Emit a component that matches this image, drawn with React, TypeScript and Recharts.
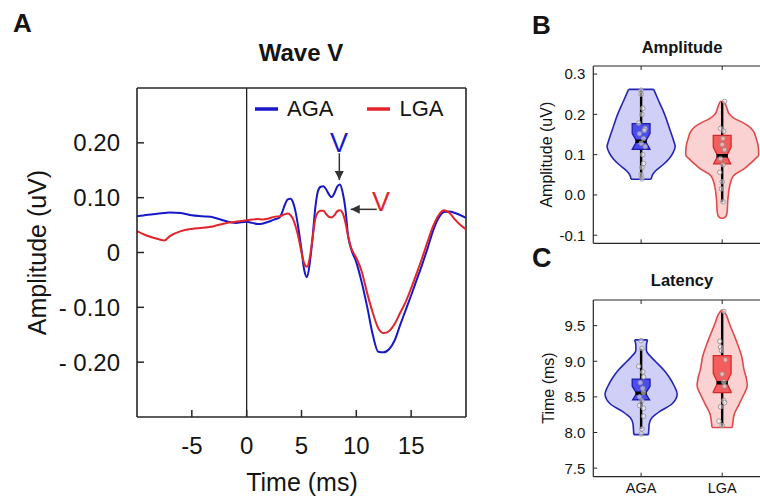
import React from 'react';
import {
  LineChart,
  Line,
  XAxis,
  YAxis,
  ReferenceLine,
  ReferenceDot,
  Legend,
  ComposedChart,
  Area,
} from 'recharts';

const FONT = '"Liberation Sans", Arial, Helvetica, sans-serif';
const INK = '#141414';
const AXIS = '#262626';
const BLUE = '#1818c8';
const RED = '#e3242b';

// ---------------- Panel A: Wave V ----------------
const TIME_MS = [
  -10, -9, -8, -7.5, -7, -6, -5, -4, -3, -2, -1,
  0, 0.5, 1, 1.5, 2, 2.5, 3,
  3.25, 3.5, 3.75, 4, 4.25, 4.5, 4.75, 5, 5.25, 5.5, 5.75, 6, 6.25, 6.5, 6.75, 7, 7.25, 7.5, 7.75, 8, 8.25, 8.5, 8.75, 9, 9.25, 9.5,
  10, 10.5, 11, 11.5, 12, 12.5, 13, 13.5, 14, 14.5, 15, 15.5, 16, 16.5, 17, 17.5, 18, 18.5, 19, 19.5, 20,
];
const AGA_WAVE = [
  0.066, 0.069, 0.071, 0.072, 0.073, 0.072, 0.068, 0.066, 0.064, 0.058, 0.054,
  0.056, 0.054, 0.052, 0.053, 0.056, 0.06, 0.064,
  0.074, 0.088, 0.097, 0.098, 0.09, 0.07, 0.04, 0.005, -0.032, -0.045, -0.02, 0.025, 0.08, 0.112, 0.12, 0.121, 0.115, 0.106, 0.101, 0.108, 0.12, 0.124, 0.11, 0.08, 0.03, 0.008,
  -0.018, -0.055, -0.1, -0.15, -0.181, -0.182, -0.176, -0.16, -0.132, -0.105, -0.078, -0.05, -0.022, 0.008, 0.04, 0.063, 0.074, 0.075, 0.072, 0.068, 0.063,
];
const LGA_WAVE = [
  0.039, 0.03, 0.024, 0.022, 0.03, 0.039, 0.043, 0.045, 0.048, 0.053, 0.056,
  0.059, 0.06, 0.061, 0.06, 0.062, 0.065, 0.066,
  0.068, 0.07, 0.071, 0.068, 0.06, 0.045, 0.025, 0.0, -0.02, -0.026, -0.01, 0.025, 0.06, 0.073, 0.076, 0.076, 0.07, 0.065, 0.064, 0.068, 0.075, 0.077, 0.072, 0.055, 0.03, 0.01,
  -0.01, -0.035, -0.075, -0.11, -0.138, -0.147, -0.143, -0.13, -0.11, -0.09, -0.065, -0.038, -0.01, 0.02, 0.048, 0.068, 0.077, 0.072, 0.06, 0.05, 0.042,
];
const WAVE_SERIES = ['AGA', 'LGA'];
const WAVE_X_DOMAIN: [number, number] = [-10, 20];
const WAVE_Y_DOMAIN: [number, number] = [-0.3, 0.3];
const WAVE_X_TICKS = [-5, 0, 5, 10, 15];
const WAVE_Y_TICKS = [-0.2, -0.1, 0, 0.1, 0.2];
const STIMULUS_MS = 0;
const PEAK_LABEL_AGA = { x: 8.42, y: 0.201 };
const PEAK_ARROW_AGA = [{ x: 8.45, y: 0.181 }, { x: 8.45, y: 0.132 }];
const PEAK_LABEL_LGA = { x: 12.24, y: 0.094 };
const PEAK_ARROW_LGA = [{ x: 11.86, y: 0.0787 }, { x: 9.49, y: 0.0787 }];

const waveRows = TIME_MS.map((t, i) => ({ t, aga: AGA_WAVE[i], lga: LGA_WAVE[i] }));

// ---------------- Panels B/C: violins ----------------
const GROUPS = ['AGA', 'LGA'];
const GROUP_POS = [1, 2];
const GROUP_X_DOMAIN: [number, number] = [0.41, 2.59];

// Amplitude (uV)
const AMP_AGA_LEVELS = [0.039, 0.05, 0.06, 0.075, 0.09, 0.105, 0.12, 0.135, 0.165, 0.2, 0.232, 0.262];
const AMP_AGA_WIDTH = [0.125, 0.14, 0.18, 0.27, 0.345, 0.395, 0.42, 0.4, 0.35, 0.29, 0.22, 0.155];
const AMP_LGA_LEVELS = [-0.058, -0.052, -0.04, -0.012, 0.02, 0.045, 0.05, 0.062, 0.075, 0.087, 0.1, 0.12, 0.14, 0.16, 0.17, 0.18, 0.19, 0.2, 0.22, 0.232];
const AMP_LGA_WIDTH = [0.015, 0.05, 0.062, 0.07, 0.09, 0.13, 0.15, 0.25, 0.33, 0.395, 0.45, 0.445, 0.42, 0.38, 0.33, 0.25, 0.15, 0.09, 0.05, 0.025];
const AMP_Q1 = [0.113, 0.077];
const AMP_MED = [0.133, 0.097];
const AMP_Q3 = [0.177, 0.148];
const AMP_NOTCH = [0.02, 0.022];
const AMP_WHISK_LO = [0.04, -0.018];
const AMP_WHISK_HI = [0.26, 0.232];
const AMP_AGA_PTS = [0.26, 0.25, 0.215, 0.2, 0.178, 0.165, 0.16, 0.152, 0.14, 0.128, 0.12, 0.1, 0.078, 0.068, 0.05, 0.04];
const AMP_AGA_JIT = [0, 0, 0.02, 0.01, -0.03, 0.05, 0.04, -0.02, 0.03, 0, 0.05, 0.02, 0.03, 0.01, 0, 0.01];
const AMP_LGA_PTS = [0.232, 0.165, 0.158, 0.14, 0.125, 0.112, 0.09, 0.075, 0.056, 0.033, 0.015, -0.017];
const AMP_LGA_JIT = [0.03, -0.02, 0.02, 0.01, 0, 0.03, -0.02, 0.01, -0.03, 0, -0.01, 0.01];
const AMP_DOMAIN: [number, number] = [-0.12, 0.32];
const AMP_TICKS = [-0.1, 0, 0.1, 0.2, 0.3];

// Latency (ms)
const LAT_AGA_LEVELS = [7.97, 8.05, 8.12, 8.21, 8.3, 8.4, 8.54, 8.65, 8.78, 8.87, 9.0, 9.07, 9.15, 9.23, 9.3];
const LAT_AGA_WIDTH = [0.09, 0.095, 0.1, 0.135, 0.235, 0.38, 0.445, 0.41, 0.345, 0.285, 0.175, 0.115, 0.065, 0.065, 0.08];
const LAT_LGA_LEVELS = [8.07, 8.12, 8.26, 8.4, 8.54, 8.66, 8.75, 8.88, 9.07, 9.3, 9.54, 9.65, 9.715];
const LAT_LGA_WIDTH = [0.125, 0.13, 0.15, 0.21, 0.27, 0.31, 0.3, 0.27, 0.24, 0.17, 0.085, 0.05, 0.015];
const LAT_Q1 = [8.46, 8.56];
const LAT_MED = [8.55, 8.7];
const LAT_Q3 = [8.75, 9.08];
const LAT_NOTCH = [0.1, 0.13];
const LAT_WHISK_LO = [8.05, 8.08];
const LAT_WHISK_HI = [9.18, 9.7];
const LAT_AGA_PTS = [9.29, 9.18, 8.93, 8.85, 8.78, 8.7, 8.62, 8.56, 8.5, 8.45, 8.38, 8.34, 8.23, 8.05, 7.98];
const LAT_AGA_JIT = [0, 0.01, -0.03, 0.02, 0.03, -0.01, 0.02, 0.03, -0.02, 0.01, -0.02, 0.03, 0.03, 0.01, 0];
const LAT_LGA_PTS = [9.7, 9.28, 9.2, 9.15, 9.02, 8.82, 8.71, 8.65, 8.45, 8.42, 8.36, 8.16, 8.1];
const LAT_LGA_JIT = [0.02, -0.03, -0.02, -0.01, 0.04, 0, 0.02, 0.03, 0.02, 0.03, -0.02, -0.04, 0];
const LAT_DOMAIN: [number, number] = [7.38, 9.86];
const LAT_TICKS = [7.5, 8, 8.5, 9, 9.5];

const VIOLIN_FILL = ['#cfcff7', '#fbd2d2'];
const VIOLIN_STROKE = ['#2525b5', '#e04a4a'];
const BOX_FILL = ['#4646ec', '#f35656'];
const BOX_STROKE = ['#1c1cae', '#d42a2a'];
const BOX_HALF = 0.11;
const MEDIAN_HALF = 0.07;

// ---------------- helpers ----------------
const fmtWave = (v: number) => (v === 0 ? '0' : v < 0 ? `- ${Math.abs(v).toFixed(2)}` : v.toFixed(2));

const violinRows = (levels: number[], widths: number[], pos: number) =>
  levels.map((y, i) => ({ y, r: [pos - widths[i], pos + widths[i]] }));
const capRows = (y: number, w: number, pos: number) => [
  { y, x: pos - w },
  { y, x: pos + w },
];
const boxRows = (q1: number, med: number, q3: number, notch: number, pos: number) => {
  const half = (y: number) => BOX_HALF * (0.5 + 0.5 * Math.min(1, Math.abs(y - med) / notch));
  const ys = [q1, med - notch, med, med + notch, q3].filter((y) => y >= q1 && y <= q3).sort((a, b) => a - b);
  const rows = ys.map((y) => ({ y, r: [pos - half(y), pos + half(y)] }));
  return [{ y: q1, r: [pos, pos] }, ...rows, { y: q3, r: [pos, pos] }];
};

const renderWaveXTick = (p: any) => (
  <g>
    <line x1={p.x} x2={p.x} y1={p.y} y2={p.y - 7} stroke={AXIS} strokeWidth={1.5} />
    <text x={p.x} y={p.y + 37} textAnchor="middle" fontSize={24} fill={INK} fontFamily={FONT}>
      {String(p.payload.value)}
    </text>
  </g>
);
const renderWaveYTick = (p: any) => (
  <g>
    <line x1={p.x + 17} x2={p.x + 24} y1={p.y} y2={p.y} stroke={AXIS} strokeWidth={1.5} />
    <text x={p.x} y={p.y} dy="0.36em" textAnchor="end" fontSize={24} fill={INK} fontFamily={FONT}>
      {fmtWave(p.payload.value)}
    </text>
  </g>
);
const renderWaveLegend = (props: any) => (
  <div
    style={{
      display: 'flex',
      alignItems: 'center',
      fontFamily: FONT,
      fontSize: 22,
      color: INK,
      lineHeight: '25px',
      whiteSpace: 'nowrap',
    }}
  >
    {(props.payload || []).map((e: any, i: number) => (
      <div key={String(e.value)} style={{ display: 'flex', alignItems: 'center', marginRight: i === 0 ? 34 : 0 }}>
        <svg width={23} height={4} style={{ display: 'block' }}>
          <line x1={0} x2={23} y1={2} y2={2} stroke={e.color} strokeWidth={3.5} />
        </svg>
        <span style={{ marginLeft: 9 }}>{e.value}</span>
      </div>
    ))}
  </div>
);
const ArrowShape = (p: any) => (
  <line x1={p.x1} y1={p.y1} x2={p.x2} y2={p.y2} stroke="#333" strokeWidth={1.5} markerEnd="url(#arrowHead)" />
);
const peakLabel = (color: string) => (p: any) => (
  <text x={p.cx} y={p.cy} dy="0.36em" textAnchor="middle" fontSize={27} fill={color} fontFamily={FONT}>
    V
  </text>
);

function WaveChart() {
  return (
    <LineChart width={480} height={497} data={waveRows} margin={{ top: 87, right: 14, bottom: 79, left: 0 }}>
      <defs>
        <marker id="arrowHead" viewBox="0 0 10 10" refX="10" refY="5" markerWidth="10" markerHeight="9" markerUnits="userSpaceOnUse" orient="auto">
          <path d="M0,0 L10,5 L0,10 z" fill="#333" />
        </marker>
      </defs>
      <XAxis
        type="number"
        dataKey="t"
        domain={WAVE_X_DOMAIN}
        ticks={WAVE_X_TICKS}
        allowDataOverflow
        interval={0}
        height={1}
        tickSize={0}
        tickMargin={0}
        tickLine={false}
        axisLine={{ stroke: AXIS, strokeWidth: 1.6 }}
        tick={renderWaveXTick}
      />
      <XAxis
        xAxisId="frame"
        type="number"
        orientation="top"
        domain={WAVE_X_DOMAIN}
        allowDataOverflow
        height={1}
        tick={false}
        tickLine={false}
        axisLine={{ stroke: AXIS, strokeWidth: 1.6 }}
      />
      <YAxis
        type="number"
        domain={WAVE_Y_DOMAIN}
        ticks={WAVE_Y_TICKS}
        allowDataOverflow
        interval={0}
        width={137}
        tickSize={0}
        tickMargin={17}
        tickLine={false}
        axisLine={{ stroke: AXIS, strokeWidth: 1.6 }}
        tick={renderWaveYTick}
      />
      <ReferenceLine x={WAVE_X_DOMAIN[1]} stroke={AXIS} strokeWidth={1.6} />
      <ReferenceLine x={STIMULUS_MS} stroke="#111" strokeWidth={1.2} />
      <Line dataKey="aga" name={WAVE_SERIES[0]} type="monotone" stroke={BLUE} strokeWidth={2} dot={false} legendType="plainline" isAnimationActive={false} />
      <Line dataKey="lga" name={WAVE_SERIES[1]} type="monotone" stroke={RED} strokeWidth={2} dot={false} legendType="plainline" isAnimationActive={false} />
      <ReferenceLine segment={PEAK_ARROW_AGA} shape={ArrowShape} />
      <ReferenceLine segment={PEAK_ARROW_LGA} shape={ArrowShape} />
      <ReferenceDot x={PEAK_LABEL_AGA.x} y={PEAK_LABEL_AGA.y} r={0} shape={peakLabel(BLUE)} />
      <ReferenceDot x={PEAK_LABEL_LGA.x} y={PEAK_LABEL_LGA.y} r={0} shape={peakLabel(RED)} />
      <Legend
        layout="horizontal"
        verticalAlign="middle"
        align="center"
        content={renderWaveLegend}
        wrapperStyle={{ left: 255, top: 96, width: 'auto' }}
      />
    </LineChart>
  );
}

type ViolinProps = {
  top: number;
  height: number;
  marginTop: number;
  marginBottom: number;
  domain: [number, number];
  ticks: number[];
  levels: number[][];
  widths: number[][];
  q1: number[];
  med: number[];
  q3: number[];
  notch: number[];
  lo: number[];
  hi: number[];
  pts: number[][];
  jit: number[][];
  showGroupLabels: boolean;
};

function ViolinChart(props: ViolinProps) {
  const { top, height, marginTop, marginBottom, domain, ticks, levels, widths, q1, med, q3, notch, lo, hi, pts, jit, showGroupLabels } = props;
  const yTick = (p: any) => (
    <g>
      <line x1={p.x + 8} x2={p.x + 12} y1={p.y} y2={p.y} stroke={AXIS} strokeWidth={1} />
      <text x={p.x} y={p.y} dy="0.36em" textAnchor="end" fontSize={15} fill={INK} fontFamily={FONT}>
        {Number(p.payload.value).toFixed(1)}
      </text>
    </g>
  );
  const bottomTick = (p: any) => (
    <g>
      <line x1={p.x} x2={p.x} y1={p.y} y2={p.y - 4} stroke={AXIS} strokeWidth={1} />
      {showGroupLabels ? (
        <text x={p.x} y={p.y + 16} textAnchor="middle" fontSize={14.5} fill={INK} fontFamily={FONT}>
          {GROUPS[GROUP_POS.indexOf(p.payload.value)]}
        </text>
      ) : null}
    </g>
  );
  const topTick = (p: any) => <line x1={p.x} x2={p.x} y1={p.y} y2={p.y + 4} stroke={AXIS} strokeWidth={1} />;

  const series = GROUPS.flatMap((g, gi) => {
    const pos = GROUP_POS[gi];
    const lv = levels[gi];
    const wd = widths[gi];
    return [
      <Area
        key={`violin-${g}`}
        xAxisId="b"
        data={violinRows(lv, wd, pos)}
        dataKey="r"
        type="monotone"
        fill={VIOLIN_FILL[gi]}
        fillOpacity={1}
        stroke={VIOLIN_STROKE[gi]}
        strokeWidth={1.6}
        isAnimationActive={false}
        zIndex={100}
      />,
      <Line key={`capLo-${g}`} xAxisId="b" data={capRows(lv[0], wd[0], pos)} dataKey="x" type="linear" stroke={VIOLIN_STROKE[gi]} strokeWidth={1.6} dot={false} isAnimationActive={false} zIndex={110} />,
      <Line key={`capHi-${g}`} xAxisId="b" data={capRows(lv[lv.length - 1], wd[wd.length - 1], pos)} dataKey="x" type="linear" stroke={VIOLIN_STROKE[gi]} strokeWidth={1.6} dot={false} isAnimationActive={false} zIndex={110} />,
      <Line key={`whiskerLo-${g}`} xAxisId="b" data={[{ y: lo[gi], x: pos }, { y: q1[gi], x: pos }]} dataKey="x" type="linear" stroke="#000" strokeWidth={2.4} dot={false} isAnimationActive={false} zIndex={120} />,
      <Line key={`whiskerHi-${g}`} xAxisId="b" data={[{ y: q3[gi], x: pos }, { y: hi[gi], x: pos }]} dataKey="x" type="linear" stroke="#000" strokeWidth={2.4} dot={false} isAnimationActive={false} zIndex={120} />,
      <Area
        key={`box-${g}`}
        xAxisId="b"
        data={boxRows(q1[gi], med[gi], q3[gi], notch[gi], pos)}
        dataKey="r"
        type="linear"
        fill={BOX_FILL[gi]}
        fillOpacity={0.95}
        stroke={BOX_STROKE[gi]}
        strokeWidth={1.3}
        isAnimationActive={false}
        zIndex={130}
      />,
      <Line key={`median-${g}`} xAxisId="b" data={capRows(med[gi], MEDIAN_HALF, pos)} dataKey="x" type="linear" stroke="#000" strokeWidth={3.5} dot={false} isAnimationActive={false} zIndex={140} />,
      <Line
        key={`pts-${g}`}
        xAxisId="b"
        data={pts[gi].map((v, i) => ({ y: v, x: pos + jit[gi][i] }))}
        dataKey="x"
        type="linear"
        stroke="none"
        dot={{ r: 2.3, fill: 'rgba(255,255,255,0.5)', stroke: '#8a8a8a', strokeWidth: 0.8 }}
        isAnimationActive={false}
        zIndex={150}
      />,
    ];
  });

  return (
    <div style={{ position: 'absolute', left: 500, top }}>
      <ComposedChart layout="vertical" width={280} height={height} margin={{ top: marginTop - 1, bottom: marginBottom - 1, left: 0, right: 10 }}>
        <XAxis
          xAxisId="b"
          type="number"
          orientation="bottom"
          domain={GROUP_X_DOMAIN}
          ticks={GROUP_POS}
          allowDataOverflow
          interval={0}
          height={1}
          tickSize={0}
          tickMargin={0}
          tickLine={false}
          axisLine={{ stroke: AXIS, strokeWidth: 1.2 }}
          tick={bottomTick}
        />
        <XAxis
          xAxisId="t"
          type="number"
          orientation="top"
          domain={GROUP_X_DOMAIN}
          ticks={GROUP_POS}
          allowDataOverflow
          interval={0}
          height={1}
          tickSize={0}
          tickMargin={0}
          tickLine={false}
          axisLine={{ stroke: AXIS, strokeWidth: 1.2 }}
          tick={topTick}
        />
        <YAxis
          type="number"
          dataKey="y"
          domain={domain}
          ticks={ticks}
          reversed
          allowDataOverflow
          interval={0}
          width={93.3}
          tickSize={0}
          tickMargin={8}
          tickLine={false}
          axisLine={{ stroke: AXIS, strokeWidth: 1.2 }}
          tick={yTick}
        />
        {series}
      </ComposedChart>
    </div>
  );
}

export default function App() {
  return (
    <div
      style={{
        position: 'absolute',
        left: 0,
        top: 0,
        width: 760,
        height: 497,
        overflow: 'hidden',
        background: '#fff',
        fontFamily: FONT,
      }}
    >
      <div style={{ position: 'absolute', left: 0, top: 0 }}>
        <WaveChart />
      </div>
      <ViolinChart
        top={0}
        height={260}
        marginTop={66}
        marginBottom={16.7}
        domain={AMP_DOMAIN}
        ticks={AMP_TICKS}
        levels={[AMP_AGA_LEVELS, AMP_LGA_LEVELS]}
        widths={[AMP_AGA_WIDTH, AMP_LGA_WIDTH]}
        q1={AMP_Q1}
        med={AMP_MED}
        q3={AMP_Q3}
        notch={AMP_NOTCH}
        lo={AMP_WHISK_LO}
        hi={AMP_WHISK_HI}
        pts={[AMP_AGA_PTS, AMP_LGA_PTS]}
        jit={[AMP_AGA_JIT, AMP_LGA_JIT]}
        showGroupLabels={false}
      />
      <ViolinChart
        top={270}
        height={227}
        marginTop={30}
        marginBottom={20.3}
        domain={LAT_DOMAIN}
        ticks={LAT_TICKS}
        levels={[LAT_AGA_LEVELS, LAT_LGA_LEVELS]}
        widths={[LAT_AGA_WIDTH, LAT_LGA_WIDTH]}
        q1={LAT_Q1}
        med={LAT_MED}
        q3={LAT_Q3}
        notch={LAT_NOTCH}
        lo={LAT_WHISK_LO}
        hi={LAT_WHISK_HI}
        pts={[LAT_AGA_PTS, LAT_LGA_PTS]}
        jit={[LAT_AGA_JIT, LAT_LGA_JIT]}
        showGroupLabels={true}
      />
      <svg width={760} height={497} style={{ position: 'absolute', left: 0, top: 0, pointerEvents: 'none' }}>
        <g fontFamily={FONT} fill={INK}>
          <text x={13} y={32} fontSize={26} fontWeight="bold">A</text>
          <text x={301} y={60.5} fontSize={24} fontWeight="bold" textAnchor="middle">Wave V</text>
          <text transform="translate(37.7,252.5) rotate(-90)" dy="0.35em" fontSize={25} textAnchor="middle">Amplitude (uV)</text>
          <text x={302} y={491} fontSize={25} textAnchor="middle">Time (ms)</text>
          <text x={532} y={33.5} fontSize={26} fontWeight="bold">B</text>
          <text x={682} y={53} fontSize={16.5} fontWeight="bold" textAnchor="middle">Amplitude</text>
          <text transform="translate(546.7,154.7) rotate(-90)" dy="0.35em" fontSize={16} textAnchor="middle">Amplitude (uV)</text>
          <text x={532} y={267} fontSize={27} fontWeight="bold">C</text>
          <text x={682} y={285.5} fontSize={16.5} fontWeight="bold" textAnchor="middle">Latency</text>
          <text transform="translate(548,388) rotate(-90)" dy="0.35em" fontSize={16} textAnchor="middle">Time (ms)</text>
        </g>
      </svg>
    </div>
  );
}
